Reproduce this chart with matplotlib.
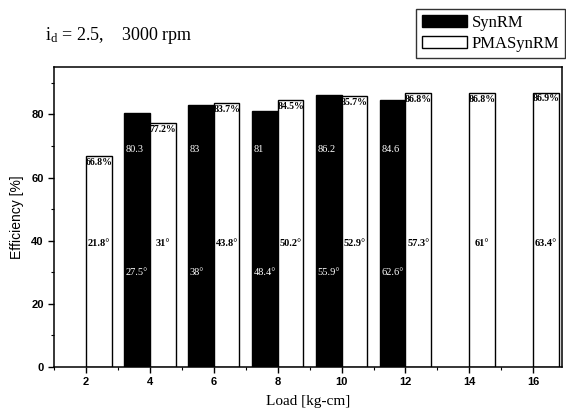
import matplotlib
matplotlib.use("Agg")
import matplotlib.pyplot as plt
from matplotlib.ticker import MultipleLocator

# Efficiency vs. load at i_d = 2.5, 3000 rpm
synrm_loads = [4, 6, 8, 10, 12]
synrm_eff = [80.3, 83, 81, 86.2, 84.6]
synrm_angle = ["27.5", "38", "48.4", "55.9", "62.6"]

pma_loads = [2, 4, 6, 8, 10, 12, 14, 16]
pma_eff = [66.8, 77.2, 83.7, 84.5, 85.7, 86.8, 86.8, 86.9]
pma_angle = ["21.8", "31", "43.8", "50.2", "52.9", "57.3", "61", "63.4"]

x_ticks = [2, 4, 6, 8, 10, 12, 14, 16]
y_ticks = [0, 20, 40, 60, 80]

plt.rcParams["mathtext.fontset"] = "custom"
plt.rcParams["mathtext.rm"] = "Liberation Serif"
plt.rcParams["mathtext.it"] = "Liberation Serif:italic"

serif = "Liberation Serif"
sans = "Liberation Sans"

fig = plt.figure(figsize=(5.66, 4.18), dpi=100)
ax = fig.add_axes([53.5 / 566, 51 / 418, (562 - 53.5) / 566, (367 - 67) / 418])

w = 0.8
ax.bar(synrm_loads, synrm_eff, width=-w, align="edge", color="black",
       edgecolor="black", linewidth=1.0, label="SynRM", zorder=2)
ax.bar(pma_loads, pma_eff, width=w, align="edge", color="white",
       edgecolor="black", linewidth=1.0, label="PMASynRM", zorder=2)

# labels on SynRM bars (white text)
for x, e, a in zip(synrm_loads, synrm_eff, synrm_angle):
    ax.text(x - w + 0.04, 69, f"{e:g}", color="white", family=serif,
            fontsize=7.5, ha="left", va="center", zorder=3)
    ax.text(x - w + 0.04, 29.8, a + "°", color="white", family=serif,
            fontsize=7.5, ha="left", va="center", zorder=3)

# labels on PMASynRM bars
for x, e, a in zip(pma_loads, pma_eff, pma_angle):
    ax.text(x + w / 2, e - 0.6, f"{e:g}%", color="black", family=serif,
            fontsize=7, fontweight="bold", ha="center", va="top", zorder=3)
    ax.text(x + w / 2, 39, a + "°", color="black", family=serif,
            fontsize=7.5, fontweight="bold", ha="center", va="center", zorder=3)

ax.set_xlim(0.98, 16.9)
ax.set_ylim(0, 95)
ax.set_xticks(x_ticks)
ax.set_yticks(y_ticks)
ax.xaxis.set_minor_locator(MultipleLocator(1))
ax.yaxis.set_minor_locator(MultipleLocator(10))
ax.tick_params(axis="both", which="major", direction="out", length=4,
               width=1, labelsize=8, pad=3)
ax.tick_params(axis="both", which="minor", direction="out", length=2, width=0.8)
for lab in ax.get_xticklabels() + ax.get_yticklabels():
    lab.set_family(sans)
    lab.set_fontweight("bold")
for s in ax.spines.values():
    s.set_linewidth(1.1)

ax.set_xlabel("Load [kg-cm]", family=serif, fontsize=11, labelpad=6)
ax.set_ylabel("Efficiency [%]", family=sans, fontsize=10, labelpad=5)

fig.text(45 / 566, 1 - 40 / 418, r"$\mathrm{i}_{\mathrm{d}}$ = 2.5,    3000 rpm",
         family=serif, fontsize=13, ha="left", va="baseline")

handles, labels = ax.get_legend_handles_labels()
leg = fig.legend(handles, labels, loc="upper right",
                 bbox_to_anchor=(565 / 566, 1 - 9 / 418), borderaxespad=0,
                 prop={"family": serif, "size": 12}, frameon=True, fancybox=False,
                 handlelength=2.7, handleheight=0.7, handletextpad=0.3,
                 labelspacing=0.3, borderpad=0.35)
leg.get_frame().set_edgecolor("black")
leg.get_frame().set_linewidth(1.0)

fig.savefig("out.png", dpi=100)
